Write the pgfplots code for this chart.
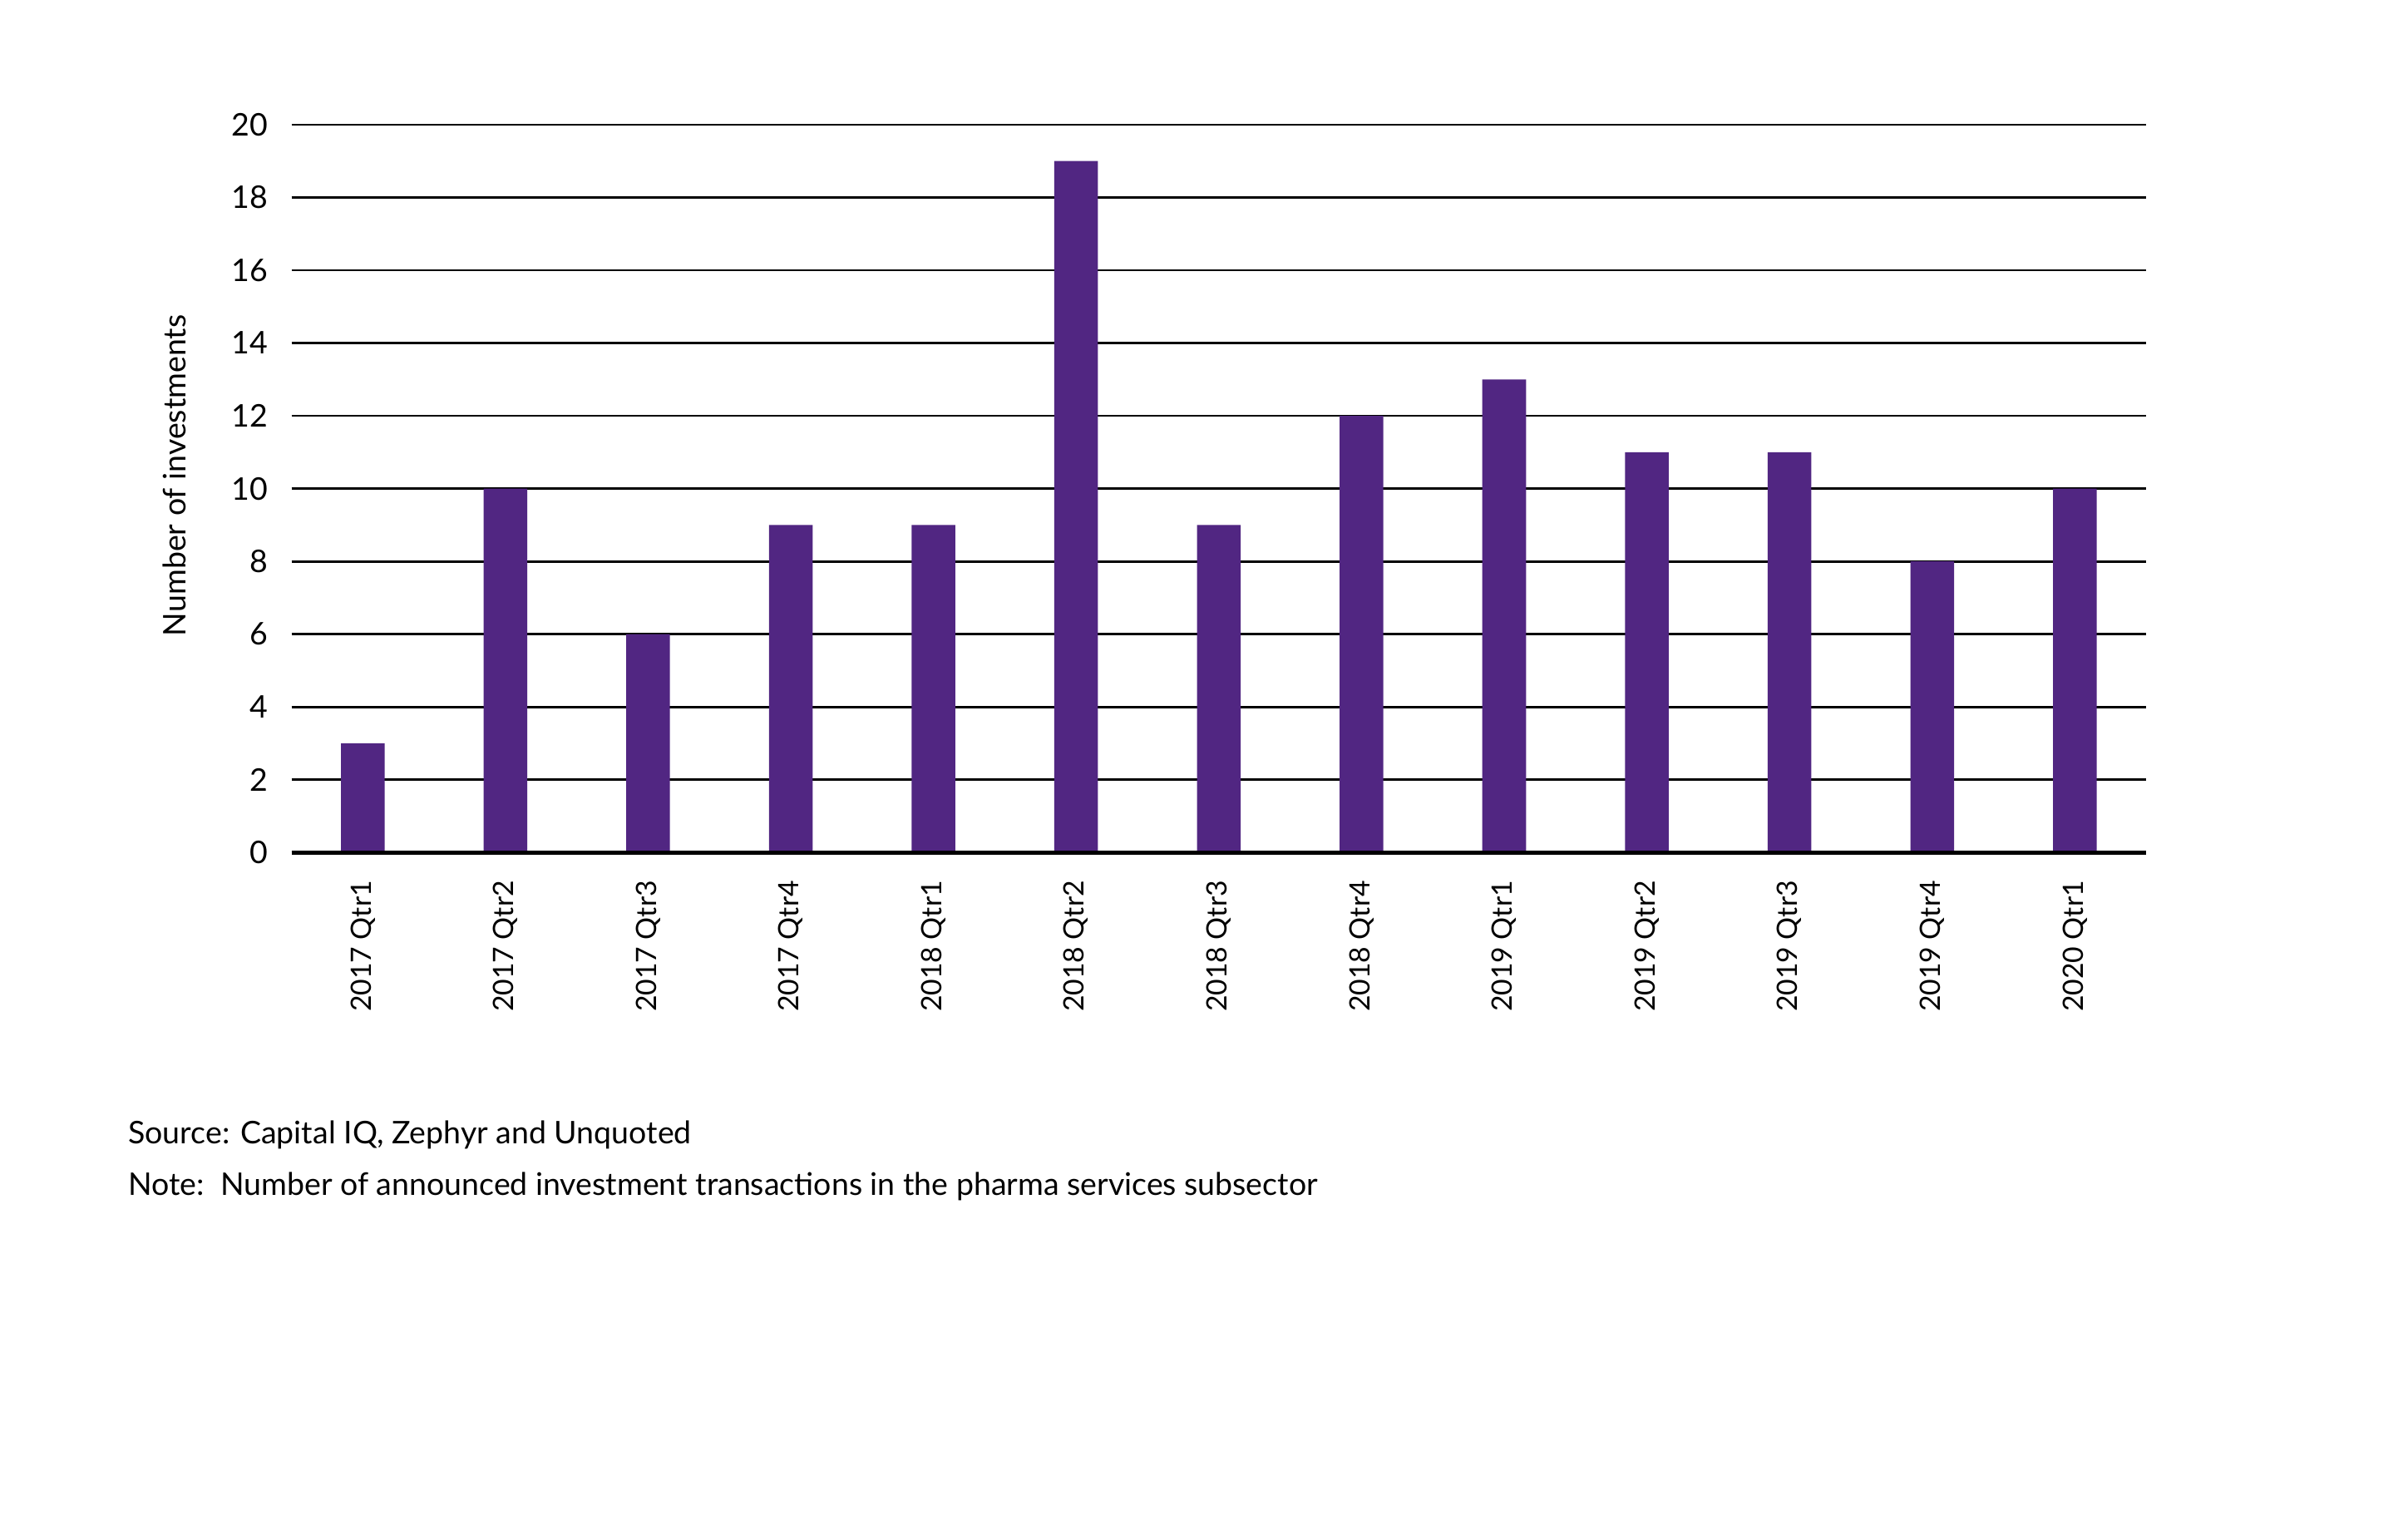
\documentclass[border=0pt]{standalone}
\usepackage{fontspec}
\setmainfont{Lato}
\usepackage{pgfplots}
\pgfplotsset{compat=1.18}
\definecolor{barpurple}{RGB}{81,38,130}

\begin{document}
\begin{tikzpicture}
\useasboundingbox (0,0) rectangle (772.5pt,486pt);
\begin{axis}[
    at={(93.5pt,212.5pt)}, anchor=south west,
    scale only axis,
    width=595pt, height=233.5pt,
    xmin=-0.5, xmax=12.5,
    ymin=0, ymax=20,
    ybar, bar width=0.306,
    xtick={0,...,12},
    xticklabels={2017 Qtr1,2017 Qtr2,2017 Qtr3,2017 Qtr4,2018 Qtr1,2018 Qtr2,2018 Qtr3,2018 Qtr4,2019 Qtr1,2019 Qtr2,2019 Qtr3,2019 Qtr4,2020 Qtr1},
    ytick={0,2,...,20},
    major tick length=0pt,
    axis line style={draw=none},
    ymajorgrids,
    grid style={black, line width=0.75pt},
    /pgf/number format/assume math mode=true,
    yticklabel style={font=\fontsize{10}{12}\selectfont},
    xticklabel style={rotate=90, anchor=east, font=\fontsize{9}{11}\selectfont},
    xticklabel shift=5.5pt,
    yticklabel shift=4pt,
    ylabel={Number of investments},
    ylabel style={at={(axis description cs:-0.051,0.518)}, anchor=south, rotate=0, font=\fontsize{10}{12}\selectfont},
    clip=false,
]
\addplot[fill=barpurple, draw=none] coordinates {
    (0,3) (1,10) (2,6) (3,9) (4,9) (5,19) (6,9)
    (7,12) (8,13) (9,11) (10,11) (11,8) (12,10)
};
\draw[black, line width=1.3pt] (rel axis cs:0,0) -- (rel axis cs:1,0);
\end{axis}
\node[anchor=west, inner sep=0pt, font=\fontsize{10}{12}\selectfont] at (41pt,122pt) {Source: Capital IQ, Zephyr and Unquoted};
\node[anchor=west, inner sep=0pt, font=\fontsize{10}{12}\selectfont] at (41pt,105.5pt) {Note:\ \ Number of announced investment transactions in the pharma services subsector};
\end{tikzpicture}
\end{document}
